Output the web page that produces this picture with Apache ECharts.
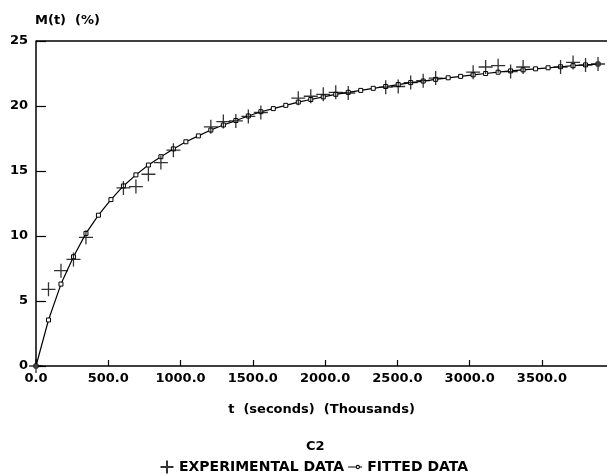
<!DOCTYPE html>
<html><head><meta charset="utf-8">
<script src="https://cdn.jsdelivr.net/npm/echarts@6/dist/echarts.min.js"></script>
<style>html,body{margin:0;padding:0;background:#fff}#c{width:607px;height:476px}</style>
</head><body><div id="c"></div>
<script>
// time in thousands of seconds (one point per day: 86.4 thousand s)
var fittedT = [0, 86.4, 172.8, 259.2, 345.6, 432, 518.4, 604.8, 691.2, 777.6, 864, 950.4, 1036.8, 1123.2, 1209.6, 1296, 1382.4, 1468.8, 1555.2, 1641.6, 1728, 1814.4, 1900.8, 1987.2, 2073.6, 2160, 2246.4, 2332.8, 2419.2, 2505.6, 2592, 2678.4, 2764.8, 2851.2, 2937.6, 3024, 3110.4, 3196.8, 3283.2, 3369.6, 3456, 3542.4, 3628.8, 3715.2, 3801.6, 3888];
var fittedM = [0, 3.54, 6.3, 8.4, 10.2, 11.6, 12.8, 13.85, 14.7, 15.46, 16.1, 16.7, 17.25, 17.7, 18.15, 18.54, 18.88, 19.23, 19.56, 19.8, 20.05, 20.3, 20.5, 20.7, 20.9, 21.05, 21.2, 21.36, 21.5, 21.65, 21.8, 21.92, 22.05, 22.17, 22.28, 22.4, 22.5, 22.6, 22.7, 22.78, 22.86, 22.94, 23.02, 23.1, 23.16, 23.23];
var expT = [0, 86.4, 172.8, 259.2, 345.6, 604.8, 691.2, 777.6, 864, 950.4, 1209.6, 1296, 1382.4, 1468.8, 1555.2, 1814.4, 1900.8, 1987.2, 2073.6, 2160, 2419.2, 2505.6, 2592, 2678.4, 2764.8, 3024, 3110.4, 3196.8, 3283.2, 3369.6, 3628.8, 3715.2, 3801.6, 3888];
var expM = [0, 5.9, 7.33, 8.2, 9.9, 13.7, 13.8, 14.75, 15.65, 16.6, 18.4, 18.8, 18.85, 19.2, 19.5, 20.6, 20.75, 20.9, 21.05, 21.0, 21.45, 21.5, 21.8, 21.95, 22.15, 22.6, 23.0, 23.1, 22.65, 23.0, 23.0, 23.35, 23.15, 23.23];
var yTicks = [0, 5, 10, 15, 20, 25];
var xTicks = [0, 500, 1000, 1500, 2000, 2500, 3000, 3500];

function pairs(a, b) { return a.map(function (v, i) { return [v, b[i]]; }); }
var FONT = '"DejaVu Sans", Verdana, sans-serif';
var chart = echarts.init(document.getElementById('c'), null, { renderer: 'canvas' });
chart.setOption({
  animation: false,
  backgroundColor: '#fff',
  textStyle: { fontFamily: FONT, color: '#000' },
  title: {
    text: 'C2', left: 306, top: 440, padding: 0,
    textStyle: { fontFamily: FONT, fontSize: 13, fontWeight: 'bold', color: '#000' }
  },
  legend: {
    top: 458, left: 158, padding: 0, itemGap: 4, itemWidth: 14, itemHeight: 13,
    textStyle: { fontFamily: FONT, fontSize: 14, fontWeight: 'bold', color: '#000' },
    data: [
      { name: 'EXPERIMENTAL DATA' },
      {
        name: 'FITTED DATA',
        icon: 'path://M0,12H15V14H0Z M21,12H26V14H21Z M18,9A4,4 0 1,1 18,17A4,4 0 1,1 18,9Z M18,11A2,2 0 1,0 18,15A2,2 0 1,0 18,11Z',
        itemStyle: { color: '#000', borderWidth: 0 }
      }
    ]
  },
  grid: { left: 36, right: 0, top: 41, bottom: 110, containLabel: false, show: false },
  xAxis: {
    type: 'value', min: 0, max: 3950, interval: 500,
    name: 't  (seconds)  (Thousands)', nameLocation: 'middle', nameGap: 37,
    nameTextStyle: { fontFamily: FONT, fontSize: 13, fontWeight: 'bold', color: '#000' },
    axisLine: { show: true, lineStyle: { color: '#000', width: 1.5 } },
    axisTick: { show: true, inside: true, length: 6, lineStyle: { color: '#000', width: 1.2 } },
    axisLabel: {
      showMaxLabel: false, margin: 6, fontFamily: FONT, fontSize: 13, fontWeight: 'bold', color: '#000',
      formatter: function (v) { return xTicks.indexOf(v) >= 0 ? v.toFixed(1) : ''; }
    },
    splitLine: { show: false }
  },
  yAxis: {
    type: 'value', min: 0, max: 25, interval: 5,
    name: 'M(t)  (%)', nameLocation: 'end', nameGap: 14,
    nameTextStyle: { fontFamily: FONT, fontSize: 13, fontWeight: 'bold', color: '#000', align: 'left', padding: [0, 0, 0, -1] },
    axisLine: { show: true, lineStyle: { color: '#000', width: 1.5 } },
    axisTick: { show: true, inside: true, length: 10, lineStyle: { color: '#000', width: 1.2 } },
    axisLabel: {
      margin: 8, fontFamily: FONT, fontSize: 13, fontWeight: 'bold', color: '#000',
      formatter: function (v) { return yTicks.indexOf(v) >= 0 ? String(v) : ''; }
    },
    splitLine: { show: false }
  },
  series: [
    {
      name: 'EXPERIMENTAL DATA', type: 'scatter', z: 3,
      symbol: 'path://M0,-10L0,10M-10,0L10,0', symbolSize: 14,
      itemStyle: { color: 'none', borderColor: '#000', borderWidth: 1.3 },
      data: pairs(expT, expM)
    },
    {
      name: 'FITTED DATA', type: 'line', z: 2,
      symbol: 'rect', symbolSize: 4, showSymbol: true,
      lineStyle: { color: '#000', width: 1.2 },
      itemStyle: { color: '#fff', borderColor: '#000', borderWidth: 1 },
      data: pairs(fittedT, fittedM)
    }
  ],
  graphic: [
    { type: 'line', shape: { x1: 36, y1: 41, x2: 607, y2: 41 }, style: { stroke: '#000', lineWidth: 1.5 } }
  ]
});
</script></body></html>
